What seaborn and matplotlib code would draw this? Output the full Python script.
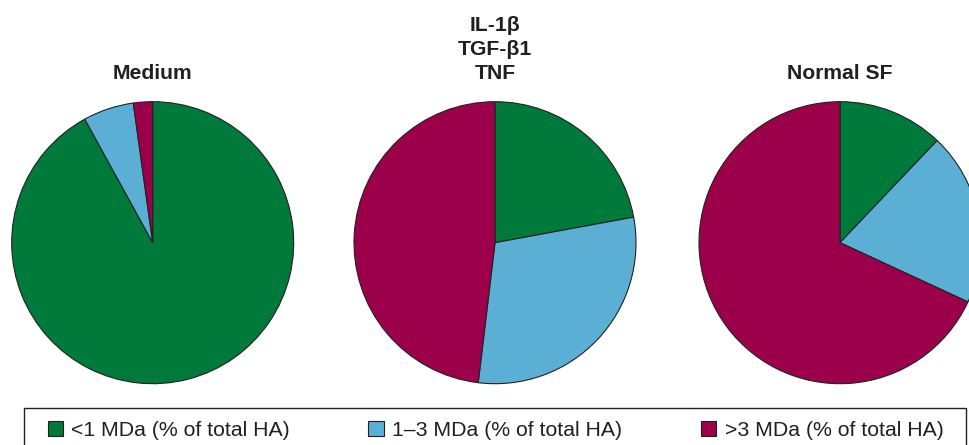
import matplotlib
matplotlib.use("Agg")
import matplotlib.pyplot as plt
import seaborn as sns
from matplotlib.patches import Patch, Rectangle

# ---- data ----
groups = ["Medium", "IL-1\u03b2\nTGF-\u03b21\nTNF", "Normal SF"]
categories = ["<1 MDa (% of total HA)", "1\u20133 MDa (% of total HA)", ">3 MDa (% of total HA)"]
medium_vals = [92.0, 5.8, 2.2]
cytokine_vals = [22.1, 29.8, 48.1]
normal_sf_vals = [12.1, 19.8, 68.1]
series = [medium_vals, cytokine_vals, normal_sf_vals]
colors = ["#007a3a", "#5bafd4", "#9c004b"]

sns.set_style("white")
plt.rcParams["font.family"] = ["Liberation Sans", "DejaVu Sans"]
palette = sns.color_palette(colors)

W, H = 969, 445
fig = plt.figure(figsize=(W / 100, H / 100), dpi=100)

centers_x = [152.7, 495.0, 840.0]
cy = 242.7
R = 141.0
lim = 1.05
half = R * lim

for i, (name, vals) in enumerate(zip(groups, series)):
    cx = centers_x[i]
    ax = fig.add_axes([(cx - half) / W, (H - cy - half) / H, 2 * half / W, 2 * half / H])
    ax.pie(vals, colors=palette, startangle=90, counterclock=False, radius=1.0,
           wedgeprops=dict(edgecolor="#222222", linewidth=0.8))
    ax.set_xlim(-lim, lim)
    ax.set_ylim(-lim, lim)
    ax.set_aspect("equal")
    ax.axis("off")
    ax.text(0, 1.135, name, ha="center", va="bottom", fontsize=15.2, fontweight="bold",
            color="#231f20", linespacing=1.33)

# legend frame
x0, y0 = 24.3, 407.5
x1 = 966.0
fig.patches.append(Rectangle((x0 / W, -0.05), (x1 - x0) / W, (H - y0) / H + 0.05,
                             transform=fig.transFigure, fill=False, edgecolor="#231f20",
                             linewidth=1.0))
handles = [Patch(facecolor=c, edgecolor="#231f20", linewidth=0.8) for c in palette]
fig.legend(handles, categories, loc="upper left", bbox_to_anchor=(47.5 / W, 1 - 420.5 / H),
           ncol=3, frameon=False, fontsize=15.3, handlelength=0.72, handleheight=0.72,
           handletextpad=0.4, columnspacing=3.69, borderpad=0, borderaxespad=0,
           labelcolor="#231f20")

fig.savefig("out.png", dpi=100)
